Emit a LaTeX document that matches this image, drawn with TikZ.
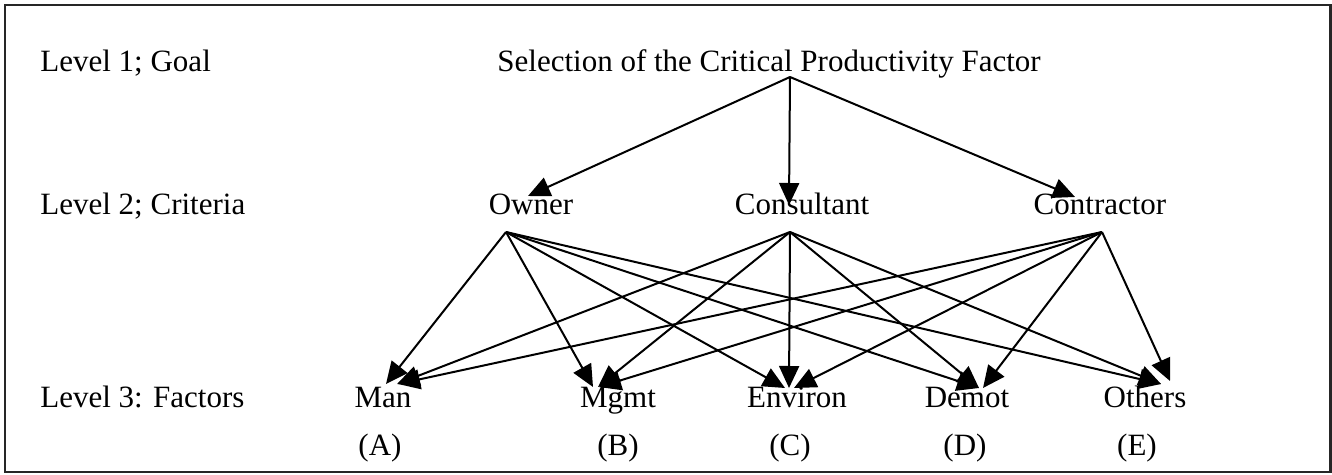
\documentclass[tikz,border=0pt]{standalone}
\usepackage{fontspec}
\setmainfont{Liberation Serif}
\usetikzlibrary{arrows.meta}
\begin{document}
\begin{tikzpicture}[x=0.5pt,y=-0.5pt,
  lbl/.style={anchor=base,inner sep=0pt,font=\fontsize{15.5}{18}\selectfont},
  lvl/.style={anchor=base west,inner sep=0pt,font=\fontsize{15.5}{18}\selectfont},
  arr/.style={line width=1pt,-{Triangle[length=11pt,width=10pt]}}]
\useasboundingbox (0,0) rectangle (1332,475);
\draw[line width=1.4pt,draw=black!85] (5,5) rectangle (1330.5,472);
% level labels
\node[lvl] (l1) at (40,72) {Level 1; Goal};
\node[lvl] (l2) at (40,215) {Level 2; Criteria};
\node[lvl] (l3) at (40,408) {Level 3: Factors};
% nodes
\node[lbl] (goal) at (769,72) {Selection of the Critical Productivity Factor};
\node[lbl] (owner) at (531,215) {Owner};
\node[lbl] (cons) at (802,215) {Consultant};
\node[lbl] (contr) at (1100,215) {Contractor};
\node[lbl] (man) at (383,408) {Man};
\node[lbl] (mgmt) at (618,408) {Mgmt};
\node[lbl] (env) at (797,408) {Environ};
\node[lbl] (dem) at (967,408) {Demot};
\node[lbl] (oth) at (1145,408) {Others};
\node[lbl] (a) at (380,455) {(A)};
\node[lbl] (b) at (618,455) {(B)};
\node[lbl] (c) at (790,455) {(C)};
\node[lbl] (d) at (965,455) {(D)};
\node[lbl] (e) at (1137,455) {(E)};
% connector points
\coordinate (gA) at (790,77);
\coordinate (ownerIn) at (528,196);
\coordinate (consIn) at (789,205);
\coordinate (contrIn) at (1075,197);
\coordinate (ownerOut) at (506,232);
\coordinate (consOut) at (790,232);
\coordinate (contrOut) at (1102,232);
\coordinate (manO) at (386,384);
\coordinate (manC) at (397,384);
\coordinate (manK) at (398,384);
\coordinate (mgmtO) at (593,387);
\coordinate (mgmtC) at (598,387);
\coordinate (mgmtK) at (599,387);
\coordinate (envO) at (785,388);
\coordinate (envC) at (789,388);
\coordinate (envK) at (794,388);
\coordinate (demO) at (979,388);
\coordinate (demC) at (979,388);
\coordinate (demK) at (983,388);
\coordinate (othO) at (1161,384);
\coordinate (othC) at (1161,384);
\coordinate (othK) at (1170,381);
% level 1 -> level 2
\draw[arr] (gA) -- (ownerIn);
\draw[arr] (gA) -- (consIn);
\draw[arr] (gA) -- (contrIn);
% level 2 -> level 3
\foreach \t in {man,mgmt,env,dem,oth}{
  \draw[arr] (ownerOut) -- (\t O);
  \draw[arr] (consOut) -- (\t C);
  \draw[arr] (contrOut) -- (\t K);
}
\end{tikzpicture}
\end{document}
